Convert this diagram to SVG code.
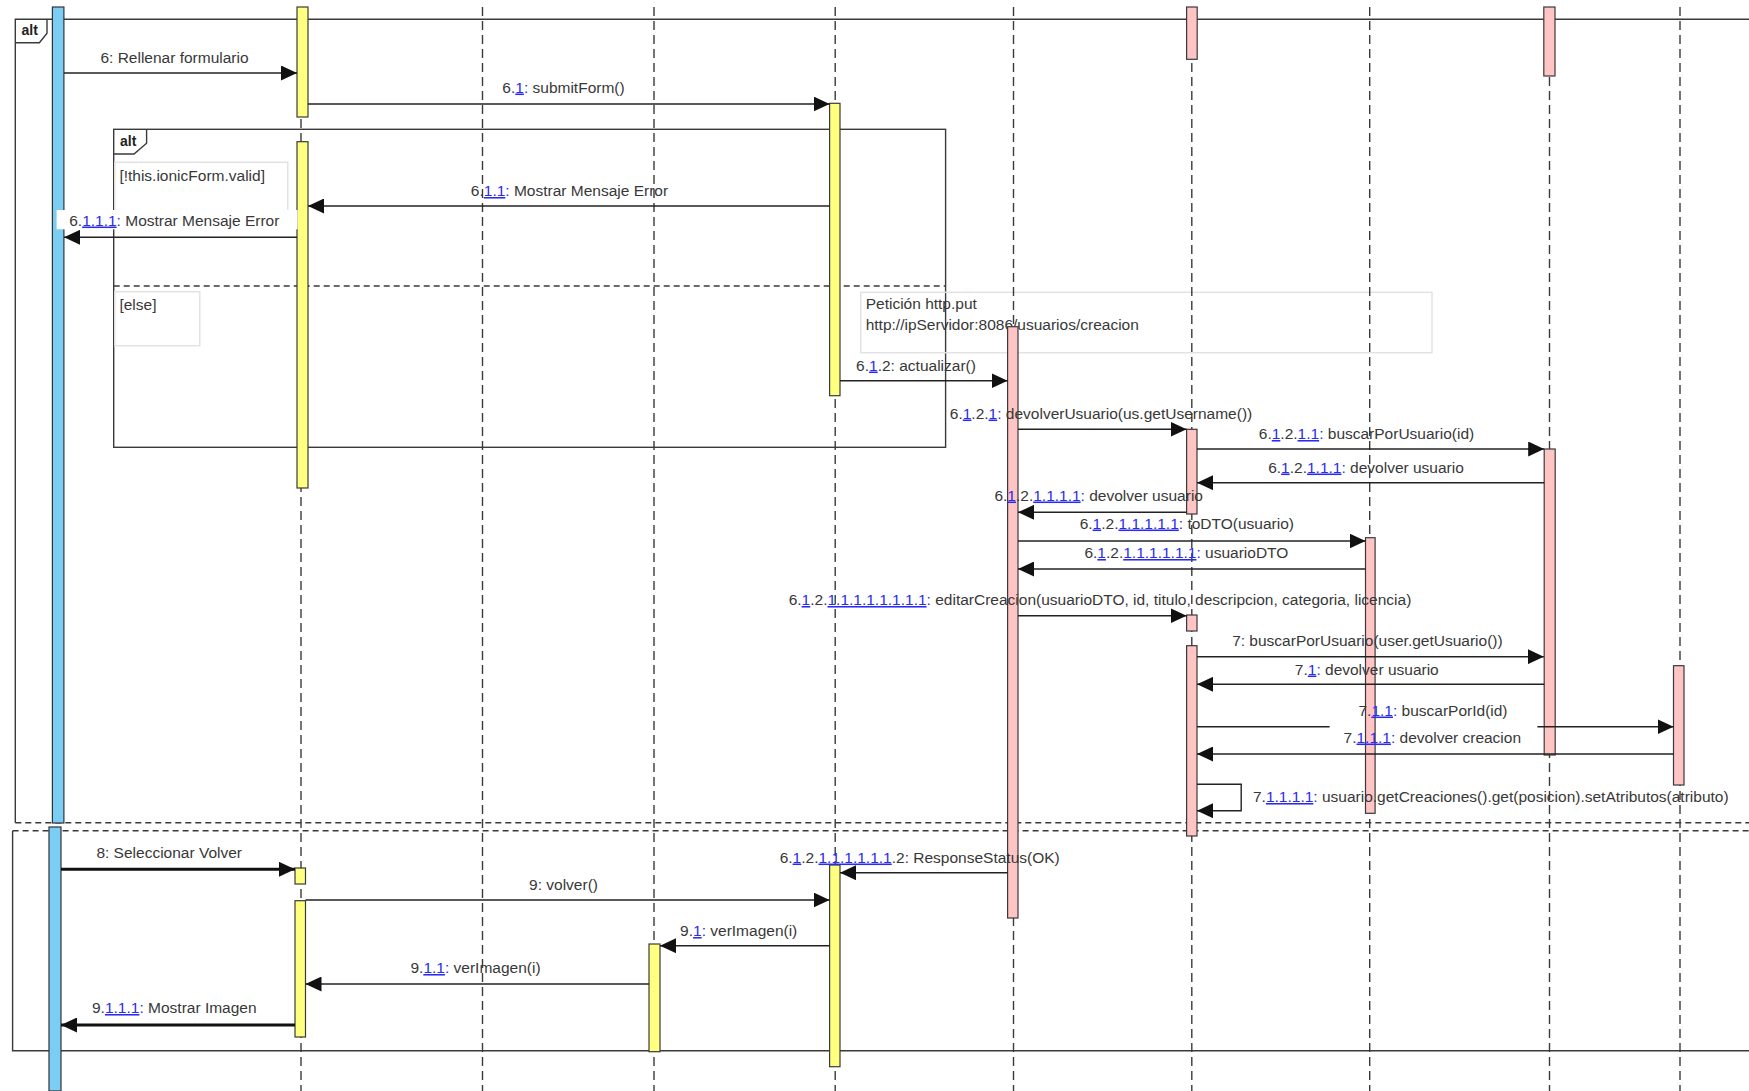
<svg xmlns="http://www.w3.org/2000/svg" width="1749" height="1091" viewBox="0 0 1749 1091">
<style>
.t{font-family:"Liberation Sans",Arial,sans-serif;font-size:15.5px;fill:#383838}
.tm{text-anchor:middle}
.l{fill:#2b2bf0;text-decoration:underline}
.c{fill:#2b2bf0}
.tag{font-family:"Liberation Sans",Arial,sans-serif;font-size:14px;font-weight:bold;fill:#222}
.ll{stroke:#3a3a3a;stroke-width:1.4;stroke-dasharray:9 5;fill:none}
.fr{fill:none;stroke:#3a3a3a;stroke-width:1.4}
.fd{fill:none;stroke:#3a3a3a;stroke-width:1.4;stroke-dasharray:6 4}
.gb{fill:none;stroke:#e2e2e2;stroke-width:1.5}
.yb{fill:#ffff80;stroke:#3a3a3a;stroke-width:1.2}
.pb{fill:#ffc4c4;stroke:#3a3a3a;stroke-width:1.2}
.bb{fill:#7ccdf4;stroke:#333;stroke-width:1.2}
.m{fill:none;stroke:#222;stroke-width:1.4;marker-end:url(#ah)}
.mn{fill:none;stroke:#222;stroke-width:1.4}
.mt{fill:none;stroke:#111;stroke-width:3;marker-end:url(#ah)}
</style>
<defs>
<marker id="ah" markerUnits="userSpaceOnUse" markerWidth="16" markerHeight="15" refX="16" refY="7.5" orient="auto">
<path d="M0,0 L16,7.5 L0,15 z" fill="#111"/>
</marker>
</defs>
<rect x="0" y="0" width="1749" height="1091" fill="#fff"/>

<g id="frames">
<path class="fr" d="M15.3,822.7 V19.3 H1749"/>
<path class="fr" d="M15.3,42.7 H39.4 L47,33.3 V19.3"/>
<text class="tag" x="21.5" y="34.5">alt</text>
<line class="fd" x1="15.3" y1="822.7" x2="1749" y2="822.7"/>
<line class="fd" x1="12.6" y1="830.7" x2="1749" y2="830.7"/>
<path class="fr" d="M12.6,830.7 V1050.7 H1749"/>
<rect class="fr" x="113.7" y="129.3" width="831.9" height="318"/>
<path class="fr" d="M113.7,154 H134 L146.6,143.3 V129.3"/>
<text class="tag" x="120" y="146">alt</text>
<line class="fd" x1="113.7" y1="286" x2="945.6" y2="286"/>
<rect class="gb" x="114.8" y="162.3" width="173" height="50"/>
<text class="t" x="119.4" y="180.5">[!this.ionicForm.valid]</text>
<rect class="gb" x="114.8" y="291.7" width="85" height="54"/>
<text class="t" x="119.4" y="310">[else]</text>
</g>

<g id="note">
<rect class="gb" x="860.7" y="292.3" width="571.3" height="60.4"/>
<text class="t" x="865.7" y="308.5">Petición http.put</text>
<text class="t" x="865.7" y="329.5">http://ipServidor:8086/usuarios/creacion</text>
</g>

<g id="lifelines">
<line class="ll" x1="301" y1="7" x2="301" y2="1091"/>
<line class="ll" x1="482.5" y1="7" x2="482.5" y2="1091"/>
<line class="ll" x1="654" y1="7" x2="654" y2="1091"/>
<line class="ll" x1="835.2" y1="7" x2="835.2" y2="1091"/>
<line class="ll" x1="1013.5" y1="7" x2="1013.5" y2="1091"/>
<line class="ll" x1="1191.8" y1="7" x2="1191.8" y2="1091"/>
<line class="ll" x1="1369.7" y1="7" x2="1369.7" y2="1091"/>
<line class="ll" x1="1549.5" y1="7" x2="1549.5" y2="1091"/>
<line class="ll" x1="1680" y1="7" x2="1680" y2="1091"/>
</g>

<g id="actor">
<rect class="bb" x="52.4" y="7" width="11.5" height="816"/>
<rect class="bb" x="49" y="827" width="12" height="264"/>
</g>
<g id="vista">
<rect class="yb" x="297" y="7" width="11" height="110"/>
<rect class="yb" x="297" y="141.7" width="11" height="346.3"/>
<rect class="yb" x="295" y="868" width="10.5" height="16"/>
<rect class="yb" x="295" y="900.7" width="10.5" height="136.3"/>
</g>
<g id="imagen">
<rect class="yb" x="649" y="944" width="11" height="107.7"/>
</g>
<g id="componente">
<rect class="yb" x="829.6" y="103.3" width="10.4" height="292.4"/>
<rect class="yb" x="829.6" y="865" width="10.4" height="201.7"/>
</g>
<g id="servicio">
<rect class="pb" x="1007.6" y="326.7" width="10.4" height="591.3"/>
</g>
<g id="controlador">
<rect class="pb" x="1186.6" y="7" width="10.6" height="52.3"/>
<rect class="pb" x="1186.6" y="429.3" width="10.4" height="84.7"/>
<rect class="pb" x="1186.6" y="615" width="10.4" height="16"/>
<rect class="pb" x="1186.6" y="645.7" width="10.4" height="190.3"/>
</g>
<g id="dto">
<rect class="pb" x="1365.5" y="537.7" width="9.6" height="275.6"/>
</g>
<g id="repoUsuario">
<rect class="pb" x="1543.8" y="7" width="11.2" height="69"/>
<rect class="pb" x="1544.2" y="449" width="11" height="306"/>
</g>
<g id="repoCreacion">
<rect class="pb" x="1673.5" y="665.7" width="10.5" height="119.3"/>
</g>

<g id="connectors">
<line class="m" x1="64" y1="73" x2="297" y2="73"/>
<line class="m" x1="308" y1="104" x2="829.6" y2="104"/>
<line class="m" x1="829.6" y1="206" x2="308" y2="206"/>
<line class="m" x1="297" y1="237.3" x2="64" y2="237.3"/>
<line class="m" x1="840" y1="380.7" x2="1007.6" y2="380.7"/>
<line class="m" x1="1018" y1="429.3" x2="1186.6" y2="429.3"/>
<line class="m" x1="1197" y1="449" x2="1544.2" y2="449"/>
<line class="m" x1="1544.2" y1="482.7" x2="1197" y2="482.7"/>
<line class="m" x1="1186.6" y1="512.3" x2="1018" y2="512.3"/>
<line class="m" x1="1018" y1="541" x2="1365.5" y2="541"/>
<line class="m" x1="1365.5" y1="569" x2="1018" y2="569"/>
<line class="m" x1="1018" y1="615.7" x2="1186.6" y2="615.7"/>
<line class="m" x1="1197" y1="656.7" x2="1543.8" y2="656.7"/>
<line class="m" x1="1544.2" y1="684.3" x2="1197" y2="684.3"/>
<line class="mn" x1="1197" y1="726.7" x2="1329.6" y2="726.7"/>
<line class="m" x1="1537.4" y1="726.7" x2="1673.5" y2="726.7"/>
<line class="m" x1="1673.5" y1="754" x2="1197" y2="754"/>
<path class="m" d="M1197,784.3 H1241.2 V810.7 H1197"/>
<line class="mt" x1="61" y1="869.3" x2="295" y2="869.3"/>
<line class="m" x1="305.5" y1="900" x2="829.6" y2="900"/>
<line class="m" x1="1007.6" y1="872.7" x2="840" y2="872.7"/>
<line class="m" x1="829.6" y1="945.7" x2="660" y2="945.7"/>
<line class="m" x1="649" y1="984" x2="305.5" y2="984"/>
<line class="mt" x1="295" y1="1025" x2="61" y2="1025"/>
</g>

<g id="labels">
<text class="t tm" x="174.5" y="63">6: Rellenar formulario</text>
<text class="t tm" x="563.5" y="92.5">6.<tspan class="l">1</tspan><tspan class="c">:</tspan> submitForm()</text>
<text class="t tm" x="569.5" y="196">6.<tspan class="l">1.1</tspan><tspan class="c">:</tspan> Mostrar Mensaje Error</text>
<rect x="56.6" y="210" width="241" height="19.3" fill="#fff"/>
<text class="t tm" x="174.3" y="225.5">6.<tspan class="l">1.1.1</tspan><tspan class="c">:</tspan> Mostrar Mensaje Error</text>
<text class="t tm" x="916" y="370.5">6.<tspan class="l">1</tspan>.2: actualizar()</text>
<text class="t tm" x="1101" y="418.5">6.<tspan class="l">1</tspan>.2.<tspan class="l">1</tspan><tspan class="c">:</tspan> devolverUsuario(us.getUsername())</text>
<text class="t tm" x="1366.5" y="439">6.<tspan class="l">1</tspan>.2.<tspan class="l">1.1</tspan><tspan class="c">:</tspan> buscarPorUsuario(id)</text>
<text class="t tm" x="1366" y="472.5">6.<tspan class="l">1</tspan>.2.<tspan class="l">1.1.1</tspan><tspan class="c">:</tspan> devolver usuario</text>
<text class="t tm" x="1098.7" y="500.5">6.<tspan class="l">1</tspan>.2.<tspan class="l">1.1.1.1</tspan><tspan class="c">:</tspan> devolver usuario</text>
<text class="t tm" x="1186.8" y="528.5">6.<tspan class="l">1</tspan>.2.<tspan class="l">1.1.1.1.1</tspan><tspan class="c">:</tspan> toDTO(usuario)</text>
<text class="t tm" x="1186.4" y="558">6.<tspan class="l">1</tspan>.2.<tspan class="l">1.1.1.1.1.1</tspan><tspan class="c">:</tspan> usuarioDTO</text>
<text class="t tm" x="1100" y="605">6.<tspan class="l">1</tspan>.2.<tspan class="l">1.1.1.1.1.1.1.1</tspan><tspan class="c">:</tspan> editarCreacion(usuarioDTO, id, titulo, descripcion, categoria, licencia)</text>
<text class="t tm" x="1367.4" y="645.5">7: buscarPorUsuario(user.getUsuario())</text>
<text class="t tm" x="1366.8" y="674.5">7.<tspan class="l">1</tspan><tspan class="c">:</tspan> devolver usuario</text>
<text class="t tm" x="1433" y="715.5">7.<tspan class="l">1.1</tspan><tspan class="c">:</tspan> buscarPorId(id)</text>
<text class="t tm" x="1432.3" y="742.5">7.<tspan class="l">1.1.1</tspan><tspan class="c">:</tspan> devolver creacion</text>
<text class="t" x="1253" y="802">7.<tspan class="l">1.1.1.1</tspan><tspan class="c">:</tspan> usuario.getCreaciones().get(posicion).setAtributos(atributo)</text>
<text class="t tm" x="169.2" y="858">8: Seleccionar Volver</text>
<text class="t tm" x="563.5" y="890">9: volver()</text>
<text class="t tm" x="919.7" y="862.5">6.<tspan class="l">1</tspan>.2.<tspan class="l">1.1.1.1.1.1</tspan>.2: ResponseStatus(OK)</text>
<text class="t tm" x="738.7" y="936">9.<tspan class="l">1</tspan><tspan class="c">:</tspan> verImagen(i)</text>
<text class="t tm" x="475.5" y="973">9.<tspan class="l">1.1</tspan><tspan class="c">:</tspan> verImagen(i)</text>
<text class="t tm" x="174.3" y="1013">9.<tspan class="l">1.1.1</tspan><tspan class="c">:</tspan> Mostrar Imagen</text>
</g>
</svg>
